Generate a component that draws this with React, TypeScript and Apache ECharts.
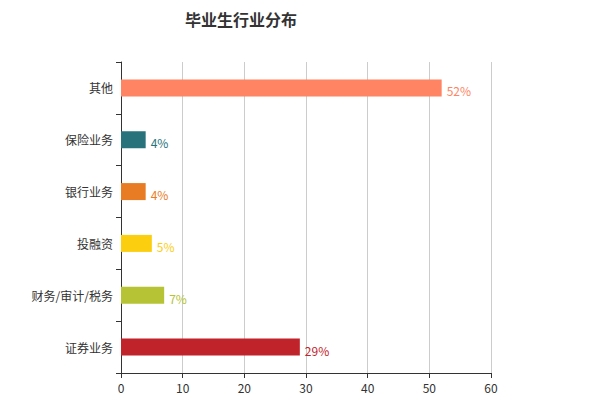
import React, { useEffect, useRef } from 'react';
import * as echarts from 'echarts';

const categories = ['证券业务', '财务/审计/税务', '投融资', '银行业务', '保险业务', '其他'];
const values = [29, 7, 5, 4, 4, 52];
const colors = ['#C1232B', '#B5C334', '#FCCE10', '#E87C25', '#27727B', '#FE8463'];
const xTicks = [0, 10, 20, 30, 40, 50, 60];

export default function App() {
  const chartRef = useRef<HTMLDivElement>(null);

  useEffect(() => {
    if (!chartRef.current) return;
    const chart = echarts.init(chartRef.current, null, { renderer: 'svg' });
    const font = '"Noto Sans CJK SC", "Microsoft YaHei", sans-serif';

    chart.setOption({
      animation: false,
      textStyle: { fontFamily: font },
      title: {
        text: '毕业生行业分布',
        left: 177,
        top: 3,
        padding: 0,
        textStyle: { fontSize: 16, lineHeight: 16, fontWeight: 'bold', color: '#333', fontFamily: font },
      },
      grid: { left: 113, right: 92, top: 54, bottom: 27 },
      xAxis: {
        type: 'value',
        min: xTicks[0],
        max: xTicks[xTicks.length - 1],
        interval: 10,
        axisLine: { show: true, lineStyle: { color: '#333' } },
        axisTick: { show: true, lineStyle: { color: '#333' } },
        axisLabel: { color: '#333', fontSize: 12, margin: 8 },
        splitLine: { show: true, lineStyle: { color: '#ccc' } },
      },
      yAxis: {
        type: 'category',
        data: categories,
        axisLine: { show: true, lineStyle: { color: '#333' } },
        axisTick: { show: true, lineStyle: { color: '#333' } },
        axisLabel: { color: '#333', fontSize: 12, margin: 8 },
        splitLine: { show: false },
      },
      series: [
        {
          type: 'bar',
          barWidth: 17,
          data: values.map((v, i) => ({
            value: v,
            itemStyle: { color: colors[i] },
            label: { color: colors[i] },
          })),
          label: {
            show: true,
            position: 'right',
            offset: [0, 3],
            fontSize: 12,
            formatter: '{c}%',
          },
        },
      ],
    });

    return () => chart.dispose();
  }, []);

  return <div ref={chartRef} style={{ width: '575px', height: '392px' }} />;
}
